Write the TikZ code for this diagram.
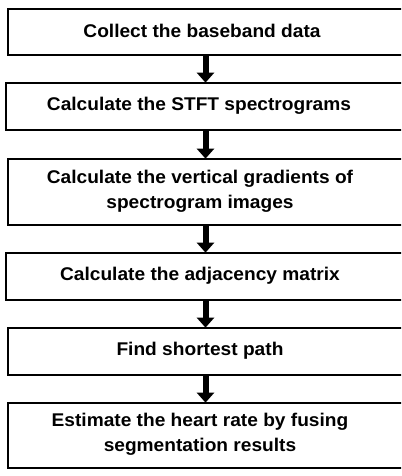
\documentclass[tikz,border=0pt]{standalone}
\usepackage{fontspec}
\setmainfont{Liberation Sans}[FakeStretch=1.04]
\usetikzlibrary{arrows.meta}
\begin{document}
\begin{tikzpicture}[x=0.75pt,y=-0.75pt,
  box/.style={draw=black, line width=1.5pt, rectangle, inner sep=0pt, anchor=north west},
  lbl/.style={font=\fontsize{13.8pt}{18.5pt}\selectfont\bfseries, align=center, inner sep=0pt},
  flow/.style={line width=4.5pt, -{Triangle[width=12.75pt,length=7.5pt]}, shorten >=-0.5pt}]
\useasboundingbox (0,0) rectangle (401,476);
\clip (0,0) rectangle (401,476);
\node[box, minimum width=305pt, minimum height=34.5pt] (b1) at (7,8) {};
\node[box, minimum width=306pt, minimum height=35.25pt] (b2) at (5,82) {};
\node[box, minimum width=305pt, minimum height=49.5pt] (b3) at (6.5,158) {};
\node[box, minimum width=306pt, minimum height=35.25pt] (b4) at (5,252) {};
\node[box, minimum width=305pt, minimum height=35.25pt] (b5) at (7,327) {};
\node[box, minimum width=305pt, minimum height=48.75pt] (b6) at (7,402) {};
\node[lbl] (t1) at (202,31) {Collect the baseband data};
\node[lbl] (t2) at (199,105.5) {Calculate the STFT spectrograms};
\node[lbl] (t3) at (200,191) {Calculate the vertical gradients of\\spectrogram images};
\node[lbl] (t4) at (200,275.5) {Calculate the adjacency matrix};
\node[lbl] (t5) at (200,350.5) {Find shortest path};
\node[lbl] (t6) at (200,434.5) {Estimate the heart rate by fusing\\segmentation results};
\coordinate (ax) at (205.5,0);
\draw[flow] (b1.south -| ax) -- (b2.north -| ax);
\draw[flow] (b2.south -| ax) -- (b3.north -| ax);
\draw[flow] (b3.south -| ax) -- (b4.north -| ax);
\draw[flow] (b4.south -| ax) -- (b5.north -| ax);
\draw[flow] (b5.south -| ax) -- (b6.north -| ax);
\end{tikzpicture}
\end{document}
